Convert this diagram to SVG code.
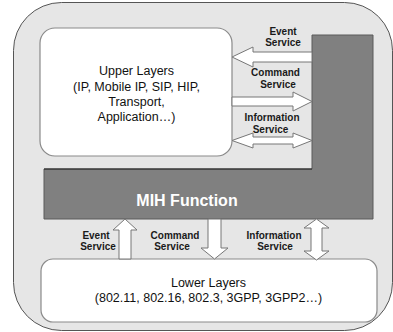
<svg xmlns="http://www.w3.org/2000/svg" width="393" height="332" viewBox="0 0 393 332">
<style>
.lbl{font-family:"Liberation Sans",Arial,sans-serif;font-size:10px;font-weight:bold;fill:#1a1a1a;text-anchor:middle}
.box{fill:#ffffff;stroke:#8a8a8a;stroke-width:1.2}
.arr{fill:#ffffff;stroke:#777777;stroke-width:1}
.big{font-family:"Liberation Sans",Arial,sans-serif;font-size:12.5px;fill:#111;text-anchor:middle}
</style>
<rect x="0" y="0" width="393" height="332" fill="#ffffff"/>
<g id="outer">
<rect x="13.5" y="2.5" width="379" height="328" rx="48" ry="48" fill="#e6e6e6" stroke="#555" stroke-width="1"/>
</g>
<g id="upper-layers">
<rect class="box" x="40" y="28" width="192" height="128" rx="15" ry="15"/>
<text class="big" x="136.5" y="75">Upper Layers</text>
<text class="big" x="136.5" y="91">(IP, Mobile IP, SIP, HIP,</text>
<text class="big" x="136.5" y="106">Transport,</text>
<text class="big" x="136.5" y="121">Application…)</text>
</g>
<g id="mih-function">
<polygon points="312,35 373,35 373,219 44,219 44,169 312,169" fill="#808080" stroke="#5a5a5a" stroke-width="1"/>
<line x1="44" y1="169" x2="312" y2="169" stroke="#222" stroke-width="1"/>
<text x="187" y="206" font-family="Liberation Sans,Arial,sans-serif" font-size="16" font-weight="bold" fill="#ffffff" text-anchor="middle">MIH Function</text>
</g>
<g id="lower-layers">
<rect class="box" x="41" y="259" width="336" height="63" rx="12" ry="12"/>
<text class="big" x="208.5" y="287">Lower Layers</text>
<text class="big" x="208.5" y="302">(802.11, 802.16, 802.3, 3GPP, 3GPP2…)</text>
</g>
<g id="connectors">
<polygon class="arr" points="312,52 253,52 253,47 232,57 253,67 253,62 312,62"/>
<polygon class="arr" points="232,97 293,97 293,92 312,101.5 293,111 293,106 232,106"/>
<polygon class="arr" points="232,140.5 253,133 253,137 293,137 293,133 312,140.5 293,148 293,144 253,144 253,148"/>
<polygon class="arr" points="125,219 137,230 131,230 131,259 119,259 119,230 113,230"/>
<polygon class="arr" points="208,219 221,219 221,248 228,248 214.5,259 201,248 208,248"/>
<polygon class="arr" points="316.5,219 329,228 322,228 322,251 329,251 316.5,260 304,251 311,251 311,228 304,228"/>
</g>
<g id="labels">
<text class="lbl" x="283" y="35">Event</text>
<text class="lbl" x="283" y="46">Service</text>
<text class="lbl" x="275.5" y="76">Command</text>
<text class="lbl" x="278" y="88">Service</text>
<text class="lbl" x="272" y="121">Information</text>
<text class="lbl" x="270.5" y="133">Service</text>
<text class="lbl" x="96" y="239">Event</text>
<text class="lbl" x="98" y="250">Service</text>
<text class="lbl" x="175" y="239">Command</text>
<text class="lbl" x="172" y="250">Service</text>
<text class="lbl" x="274" y="239">Information</text>
<text class="lbl" x="275" y="250">Service</text>
</g>
</svg>
